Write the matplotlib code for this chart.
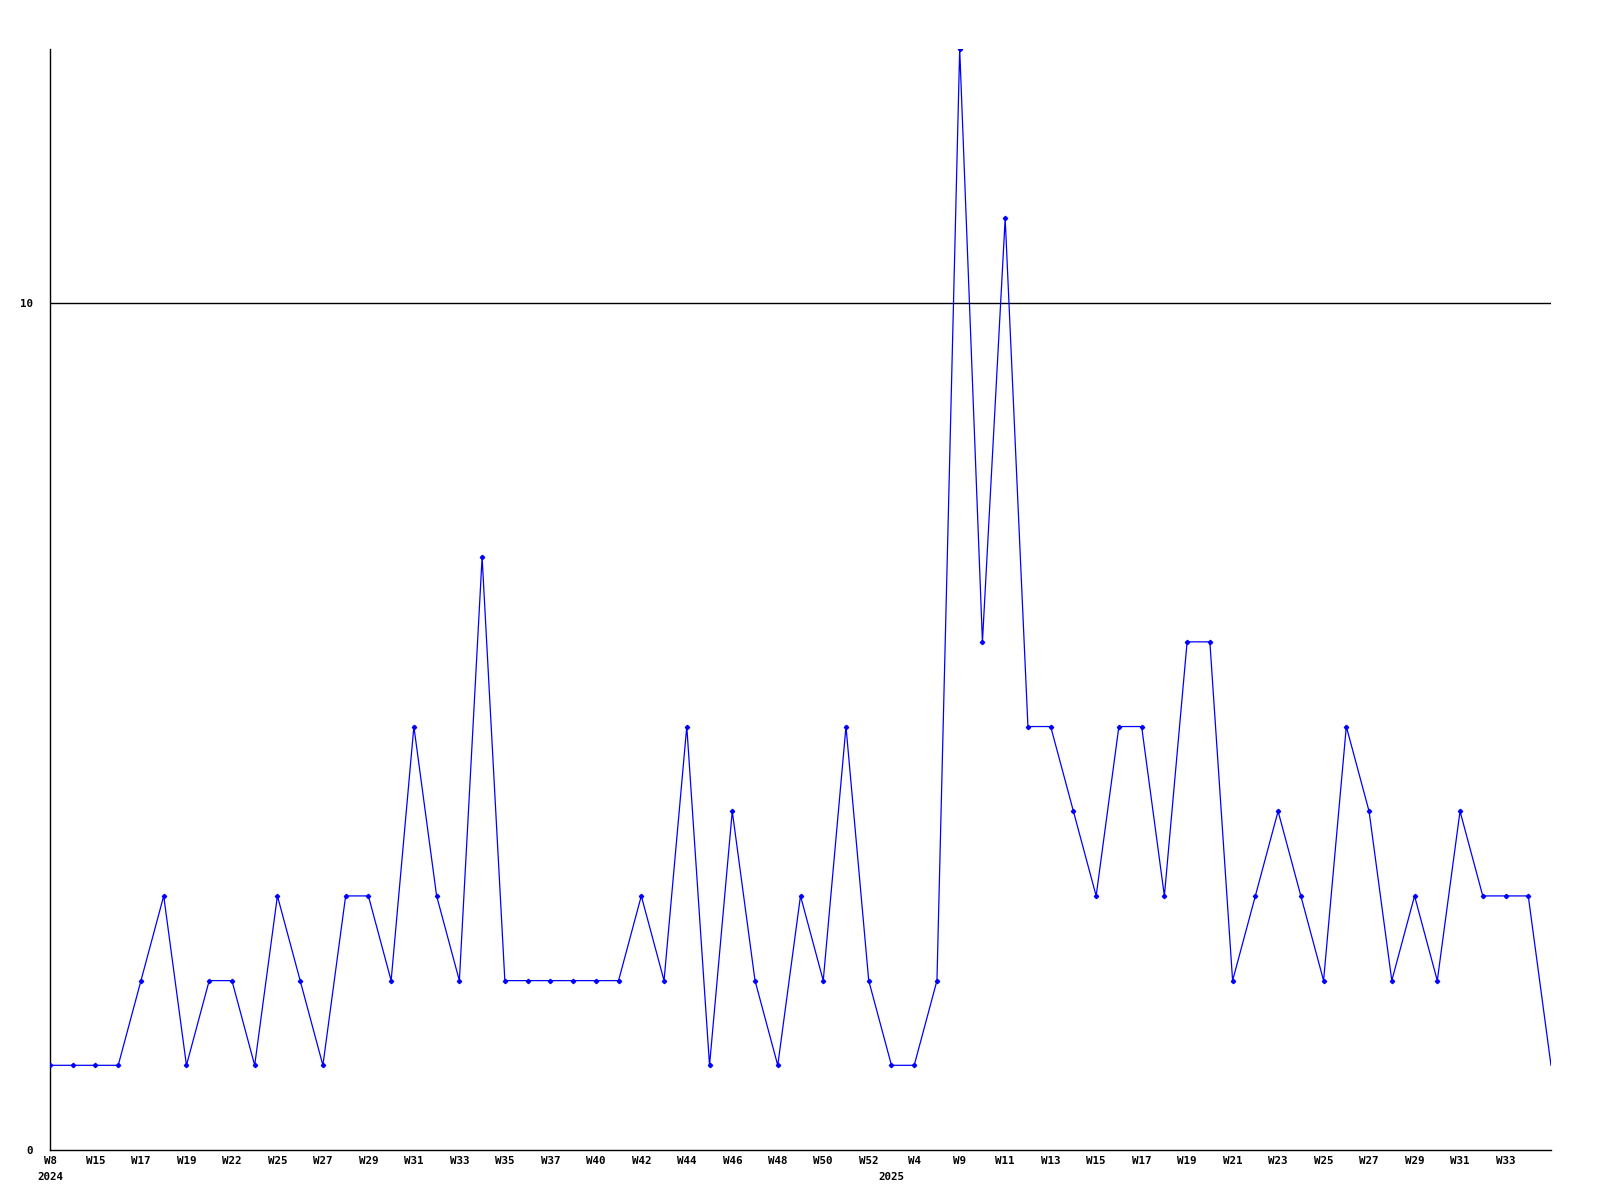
import matplotlib
matplotlib.use("Agg")
import matplotlib.pyplot as plt

values = [1, 1, 1, 1, 2, 3, 1, 2, 2, 1, 3, 2, 1, 3, 3, 2, 5, 3, 2, 7,
          2, 2, 2, 2, 2, 2, 3, 2, 5, 1, 4, 2, 1, 3, 2, 5, 2, 1, 1, 2,
          13, 6, 11, 5, 5, 4, 3, 5, 5, 3, 6, 6, 2, 3, 4, 3, 2, 5, 4, 2,
          3, 2, 4, 3, 3, 3, 1]
tick_idx = list(range(0, 65, 2))
tick_labels = ["W8", "W15", "W17", "W19", "W22", "W25", "W27", "W29", "W31", "W33",
               "W35", "W37", "W40", "W42", "W44", "W46", "W48", "W50", "W52", "W4",
               "W9", "W11", "W13", "W15", "W17", "W19", "W21", "W23", "W25", "W27",
               "W29", "W31", "W33"]
year_idx = [0, 37]
year_labels = ["2024", "2025"]
y_ticks = [0, 10]

font = dict(family="DejaVu Sans Mono", fontweight="bold", fontsize=7.8)

fig = plt.figure(figsize=(16, 12), dpi=100)
ax = fig.add_axes([50 / 1600, 50 / 1200, 1501 / 1600, 1101 / 1200])
x = list(range(len(values)))
ax.plot(x, values, color="#0000ff", lw=0.9, marker="D", markersize=2.2,
        markevery=list(range(len(values) - 1)), zorder=3)
ax.axhline(10, color="black", lw=1.0, zorder=2)
ax.set_xlim(0, len(values) - 1)
ax.set_ylim(0, 13)
for s in ["top", "right"]:
    ax.spines[s].set_visible(False)
for s in ["left", "bottom"]:
    ax.spines[s].set_linewidth(1.0)
    ax.spines[s].set_color("black")
ax.set_xticks(tick_idx)
ax.set_xticklabels(tick_labels, **font)
ax.set_yticks(y_ticks)
ax.set_yticklabels([str(v) for v in y_ticks], **font)
ax.tick_params(axis="x", length=0, pad=4)
ax.tick_params(axis="y", length=0, pad=12)
for i, lab in zip(year_idx, year_labels):
    ax.annotate(lab, xy=(i, 0), xycoords=("data", "axes fraction"),
                xytext=(0, -27), textcoords="offset pixels",
                ha="center", va="center", **font)
fig.savefig("out.png", dpi=100)
